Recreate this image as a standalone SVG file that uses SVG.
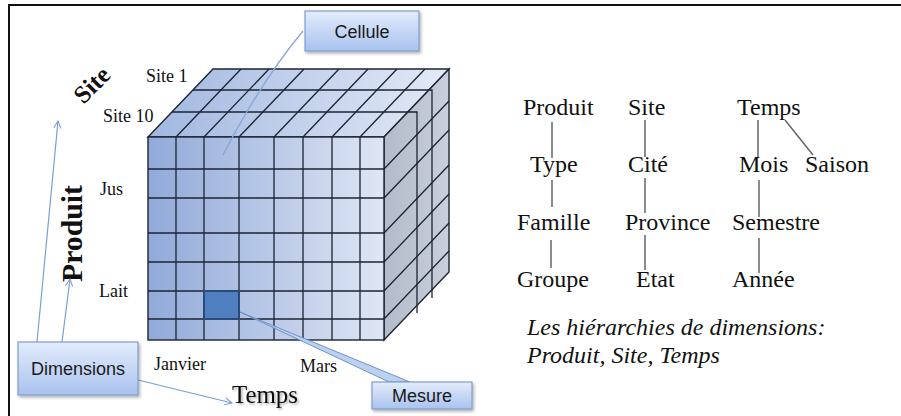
<svg xmlns="http://www.w3.org/2000/svg" width="901" height="416" viewBox="0 0 901 416">
  <defs>
    <linearGradient id="gFront" x1="0" y1="0" x2="1" y2="0">
      <stop offset="0" stop-color="#91aad9"/>
      <stop offset="1" stop-color="#dfe6f4"/>
    </linearGradient>
    <linearGradient id="gTop" x1="0" y1="0" x2="1" y2="0">
      <stop offset="0" stop-color="#a0b7e1"/>
      <stop offset="1" stop-color="#e4eaf6"/>
    </linearGradient>
    <linearGradient id="gSide" x1="0" y1="0" x2="1" y2="0">
      <stop offset="0" stop-color="#b3bac9"/>
      <stop offset="1" stop-color="#c9cfdb"/>
    </linearGradient>
    <linearGradient id="gBox" x1="0" y1="0" x2="0" y2="1">
      <stop offset="0" stop-color="#e3ecfc"/>
      <stop offset="1" stop-color="#a9c2ee"/>
    </linearGradient>
    <filter id="shadow" x="-10%" y="-10%" width="130%" height="140%">
      <feDropShadow dx="1.5" dy="2" stdDeviation="1.5" flood-color="#000" flood-opacity="0.3"/>
    </filter>
    <filter id="textShadow" x="-10%" y="-20%" width="130%" height="150%">
      <feDropShadow dx="1.5" dy="1.5" stdDeviation="1.2" flood-color="#000" flood-opacity="0.35"/>
    </filter>
    <marker id="arrowOpen" viewBox="0 0 10 10" refX="9" refY="5" markerWidth="9" markerHeight="9" orient="auto" markerUnits="userSpaceOnUse">
      <path d="M1,1 L9,5 L1,9" fill="none" stroke="#7b9fd4" stroke-width="1.2"/>
    </marker>
    <style>
      .grid { stroke: #1c2433; stroke-width: 1.3; fill: none; }
      .edge { stroke: #1c2433; stroke-width: 1.4; }
      .lbl { font-family: "Liberation Serif", "Times New Roman", serif; font-size: 18px; fill: #111; }
      .axis { font-family: "Liberation Serif", "Times New Roman", serif; font-weight: bold; fill: #111; }
      .axisPlain { font-family: "Liberation Serif", "Times New Roman", serif; font-weight: normal; fill: #111; }
      .hier { font-family: "Liberation Serif", "Times New Roman", serif; font-size: 24px; fill: #111; }
      .cap { font-family: "Liberation Serif", "Times New Roman", serif; font-size: 24px; font-style: italic; fill: #111; }
      .box { fill: url(#gBox); stroke: #7e9dcc; stroke-width: 1.2; filter: url(#shadow); }
      .boxText { font-family: "Liberation Sans", Arial, sans-serif; font-size: 18px; fill: #1a1a1a; text-anchor: middle; }
      .tree { stroke: #666; stroke-width: 1.5; fill: none; }
      .dimArrow { stroke: #7b9fd4; stroke-width: 1.2; fill: none; marker-end: url(#arrowOpen); }
    </style>
  </defs>

  <rect width="901" height="416" fill="#fff"/>
  <!-- outer frame -->
  <rect x="9" y="5" width="900" height="420" fill="none" stroke="#111" stroke-width="2"/>

  <!-- data cube -->
  <g id="cube">
    <polygon points="148,137 384,137 449,69 213,69" fill="url(#gTop)" class="edge"/>
    <polygon points="384,137 449,69 449,272 384,340" fill="url(#gSide)" class="edge"/>
    <rect x="148" y="137" width="236" height="203" fill="url(#gFront)" class="edge"/>
    <!-- top face: column lines -->
    <path class="grid" d="M176,137 L241,69 M204,137 L269,69 M239,137 L304,69 M274,137 L339,69 M303,137 L368,69 M332,137 L397,69 M360,137 L425,69"/>
    <!-- slab outlines behind the front layer -->
    <path class="grid" d="M172,112 L417,112 L417,313 M193,90 L432,90 L432,298"/>
    <!-- right face: row lines -->
    <path class="grid" d="M384,169 L449,101 M384,198 L449,130 M384,233 L449,165 M384,262 L449,194 M384,291 L449,223 M384,319 L449,251"/>
    <!-- front face grid -->
    <path class="grid" d="M176,137 V340 M204,137 V340 M239,137 V340 M274,137 V340 M303,137 V340 M332,137 V340 M360,137 V340"/>
    <path class="grid" d="M148,169 H384 M148,198 H384 M148,233 H384 M148,262 H384 M148,291 H384 M148,319 H384"/>
    <!-- measured cell -->
    <rect id="cell-mesure" x="204" y="291" width="35" height="28" fill="#4f7fbf" stroke="#2b4a78" stroke-width="2"/>
  </g>

  <!-- cube axis labels -->
  <g id="labels">
    <text class="lbl" x="146" y="82">Site 1</text>
    <text class="lbl" x="103" y="122">Site 10</text>
    <text class="lbl" x="100" y="195">Jus</text>
    <text class="lbl" x="99" y="297">Lait</text>
    <text class="lbl" x="154" y="370">Janvier</text>
    <text class="lbl" x="300" y="372">Mars</text>
    <text class="axis" font-size="25" text-anchor="middle" transform="translate(92,85) rotate(-45)" dy="8">Site</text>
    <text class="axis" font-size="29" transform="translate(82,282) rotate(-90)" textLength="97" lengthAdjust="spacingAndGlyphs">Produit</text>
    <text class="axisPlain" font-size="26" x="232" y="403" textLength="66" lengthAdjust="spacingAndGlyphs" filter="url(#textShadow)">Temps</text>
  </g>

  <!-- callout connectors -->
  <g id="connectors">
    <path d="M303,31 Q262,80 223,155" fill="none" stroke="#8aa6d6" stroke-width="1.3"/>
    <polygon points="240,312 389,382 410,382" fill="#bcd0f0" stroke="#6f93c8" stroke-width="1"/>
    <line class="dimArrow" x1="37" y1="342" x2="58" y2="121"/>
    <line class="dimArrow" x1="62" y1="342" x2="70" y2="279"/>
    <line class="dimArrow" x1="138" y1="380" x2="232" y2="403"/>
  </g>

  <g id="cellule">
    <rect class="box" x="305" y="11" width="114" height="40"/>
    <text class="boxText" x="362" y="38">Cellule</text>
  </g>
  <g id="dimensions">
    <rect class="box" x="18" y="342" width="120" height="53"/>
    <text class="boxText" x="78" y="375">Dimensions</text>
  </g>
  <g id="mesure">
    <rect class="box" x="372" y="382" width="100" height="27"/>
    <text class="boxText" x="422" y="402">Mesure</text>
  </g>

  <!-- dimension hierarchies -->
  <g id="hierarchies">
    <path class="tree" d="M552,122 V158 M552,180 V207 M551,240 V268"/>
    <path class="tree" d="M645,120 V157 M645,178 V213 M645,235 V270"/>
    <path class="tree" d="M758,120 V158 M785,120 L813,155 M759,180 V217 M759,238 V273"/>
    <text class="hier" x="523" y="115">Produit</text>
    <text class="hier" x="628" y="115">Site</text>
    <text class="hier" x="737" y="115">Temps</text>
    <text class="hier" x="530" y="172">Type</text>
    <text class="hier" x="628" y="172">Cité</text>
    <text class="hier" x="739" y="172">Mois</text>
    <text class="hier" x="805" y="172">Saison</text>
    <text class="hier" x="517" y="230">Famille</text>
    <text class="hier" x="625" y="230">Province</text>
    <text class="hier" x="732" y="230">Semestre</text>
    <text class="hier" x="517" y="287">Groupe</text>
    <text class="hier" x="636" y="287">Etat</text>
    <text class="hier" x="732" y="287">Année</text>
    <text class="cap" x="527" y="335">Les hiérarchies de dimensions:</text>
    <text class="cap" x="527" y="363">Produit, Site, Temps</text>
  </g>
</svg>
